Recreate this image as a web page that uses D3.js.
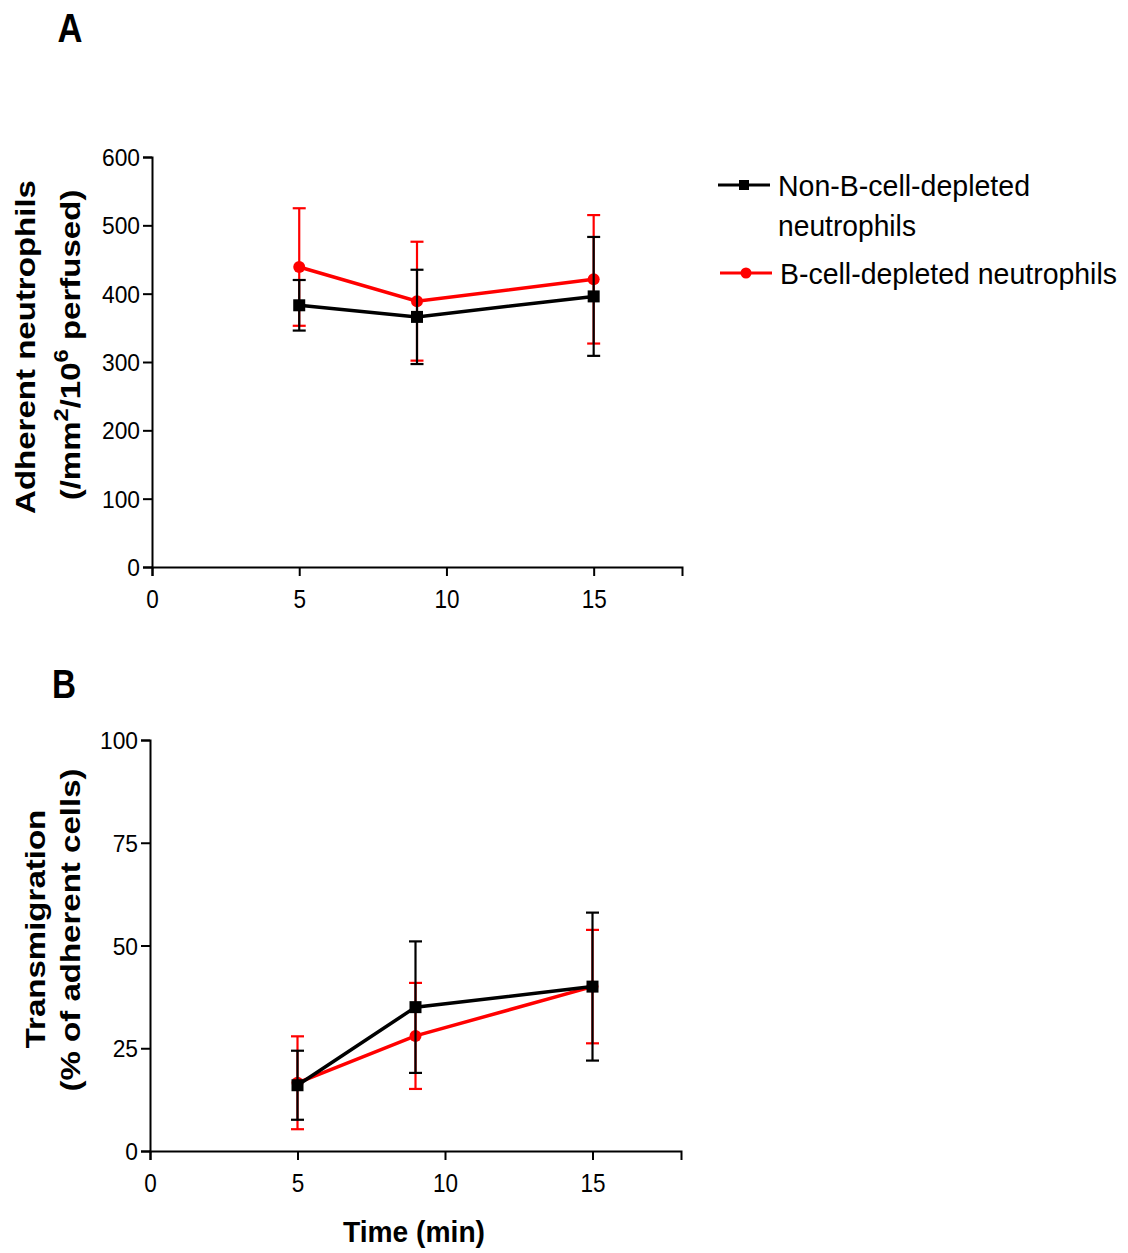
<!DOCTYPE html>
<html><head><meta charset="utf-8">
<script src="https://cdn.jsdelivr.net/npm/d3@7"></script>
<style>
body{margin:0;background:#fff;}
svg{display:block;}
.tick text{font-family:"Liberation Sans",Arial,sans-serif;fill:#000;}
</style></head>
<body>
<svg id="chart" width="1128" height="1253"></svg>
<script>
// ---- data ----
const times = [5, 9, 15];
const seriesNames = ["Non-B-cell-depleted", "neutrophils", "B-cell-depleted neutrophils"];
// Panel A: adherent neutrophils
const adhNonDepMean = [383, 366, 396];
const adhNonDepErr  = [37, 69, 87];
const adhDepMean    = [439, 389, 421];
const adhDepErr     = [86, 87, 94];
// Panel B: transmigration (%)
const trNonDepMean = [16, 35, 40];
const trNonDepErr  = [8.4, 16, 18];
const trDepMean    = [16.6, 28, 40];
const trDepErr     = [11.3, 12.9, 13.8];
// ticks
const xTicks = [0, 5, 10, 15];
const yTicksA = [0, 100, 200, 300, 400, 500, 600];
const yTicksB = [0, 25, 50, 75, 100];

const svg = d3.select("#chart");
const font = '"Liberation Sans",Arial,sans-serif';

function squeeze(sel, ratio) {
  sel.each(function() {
    const w = this.getComputedTextLength();
    d3.select(this).attr("textLength", w * ratio).attr("lengthAdjust", "spacingAndGlyphs");
  });
}

function panel(cfg) {
  const x = d3.scaleLinear().domain([0, 18]).range([cfg.left, cfg.right]);
  const y = d3.scaleLinear().domain([0, cfg.ymax]).range([cfg.bottom, cfg.top]);
  const g = svg.append("g");
  const ax = g.append("g").attr("transform", `translate(0,${cfg.bottom})`)
    .call(d3.axisBottom(x).tickValues(xTicks).tickSizeOuter(0).tickSize(9).tickPadding(14));
  const ay = g.append("g").attr("transform", `translate(${cfg.left},0)`)
    .call(d3.axisLeft(y).tickValues(cfg.yTicks).tickSizeOuter(0).tickSize(9).tickPadding(3));
  [ax, ay].forEach(a => {
    a.selectAll(".domain").attr("stroke", "#000").attr("stroke-width", 2);
    a.selectAll(".tick line").attr("stroke", "#000").attr("stroke-width", 2);
  });
  ax.selectAll(".tick text").attr("font-size", 25);
  ay.selectAll(".tick text").attr("font-size", 24).attr("dy", "0.36em");
  squeeze(ax.selectAll(".tick text"), 0.9);
  squeeze(ay.selectAll(".tick text"), 0.95);

  const series = [
    {mean: cfg.depMean, err: cfg.depErr, color: "#ff0000", shape: "circle"},
    {mean: cfg.nonMean, err: cfg.nonErr, color: "#000000", shape: "square"}
  ];
  const capW = 6.5;
  series.forEach(s => {
    const pts = times.map((t, i) => ({t, m: s.mean[i], e: s.err[i]}));
    const eg = g.append("g");
    pts.forEach(p => {
      eg.append("line").attr("x1", x(p.t)).attr("x2", x(p.t))
        .attr("y1", y(p.m + p.e)).attr("y2", y(p.m - p.e))
        .attr("stroke", s.color).attr("stroke-width", 2.2);
      [p.m + p.e, p.m - p.e].forEach(v => {
        eg.append("line").attr("x1", x(p.t) - capW).attr("x2", x(p.t) + capW)
          .attr("y1", y(v)).attr("y2", y(v))
          .attr("stroke", s.color).attr("stroke-width", 2.2);
      });
    });
    g.append("path").datum(pts)
      .attr("d", d3.line().x(d => x(d.t)).y(d => y(d.m)))
      .attr("fill", "none").attr("stroke", s.color).attr("stroke-width", 3.5);
    pts.forEach(p => {
      if (s.shape === "circle") {
        g.append("circle").attr("cx", x(p.t)).attr("cy", y(p.m)).attr("r", 6).attr("fill", s.color);
      } else {
        g.append("rect").attr("x", x(p.t) - 6).attr("y", y(p.m) - 6)
          .attr("width", 12).attr("height", 12).attr("fill", s.color);
      }
    });
  });
  return {x, y};
}

panel({left: 152, right: 682, top: 157, bottom: 567, ymax: 600, yTicks: yTicksA,
  nonMean: adhNonDepMean, nonErr: adhNonDepErr, depMean: adhDepMean, depErr: adhDepErr});
panel({left: 150, right: 681, top: 740, bottom: 1151, ymax: 100, yTicks: yTicksB,
  nonMean: trNonDepMean, nonErr: trNonDepErr, depMean: trDepMean, depErr: trDepErr});

// panel letters
svg.append("text").attr("x", 70).attr("y", 42).attr("text-anchor", "middle")
  .attr("font-family", font).attr("font-weight", "bold").attr("font-size", 40)
  .attr("textLength", 25).attr("lengthAdjust", "spacingAndGlyphs").text("A");
svg.append("text").attr("x", 64).attr("y", 698).attr("text-anchor", "middle")
  .attr("font-family", font).attr("font-weight", "bold").attr("font-size", 40)
  .attr("textLength", 24).attr("lengthAdjust", "spacingAndGlyphs").text("B");

// y titles (rotated, stretched along their length)
function yTitle(cx, cy) {
  return svg.append("text").attr("transform", `translate(${cx},${cy}) rotate(-90) scale(1.18,1)`)
    .attr("text-anchor", "middle").attr("font-family", font).attr("font-weight", "bold")
    .attr("font-size", 28);
}
yTitle(35, 347).text("Adherent neutrophils");
const tA2 = yTitle(80, 345);
tA2.append("tspan").text("(/mm");
tA2.append("tspan").attr("dy", -12).attr("font-size", 20).text("2");
tA2.append("tspan").attr("dy", 12).text("/10");
tA2.append("tspan").attr("dy", -12).attr("font-size", 20).text("6");
tA2.append("tspan").attr("dy", 12).text(" perfused)");
yTitle(45, 929).text("Transmigration");
yTitle(80, 930).text("(% of adherent cells)");

// x title
svg.append("text").attr("x", 414).attr("y", 1242).attr("text-anchor", "middle")
  .attr("font-family", font).attr("font-weight", "bold").attr("font-size", 30)
  .attr("textLength", 142).attr("lengthAdjust", "spacingAndGlyphs").text("Time (min)");

// legend
const leg = svg.append("g");
leg.append("line").attr("x1", 718).attr("x2", 770).attr("y1", 185).attr("y2", 185).attr("stroke", "#000").attr("stroke-width", 3);
leg.append("rect").attr("x", 739).attr("y", 180).attr("width", 10).attr("height", 10).attr("fill", "#000");
const lt1 = leg.append("text").attr("x", 778).attr("y", 196).attr("font-family", font).attr("font-size", 29);
lt1.append("tspan").attr("textLength", 252).attr("lengthAdjust", "spacingAndGlyphs").text(seriesNames[0]);
lt1.append("tspan").attr("x", 778).attr("dy", 40).attr("textLength", 138).attr("lengthAdjust", "spacingAndGlyphs").text(seriesNames[1]);
leg.append("line").attr("x1", 720).attr("x2", 772).attr("y1", 273).attr("y2", 273).attr("stroke", "#ff0000").attr("stroke-width", 3);
leg.append("circle").attr("cx", 746).attr("cy", 273).attr("r", 5.5).attr("fill", "#ff0000");
leg.append("text").attr("x", 780).attr("y", 284).attr("font-family", font).attr("font-size", 29)
  .attr("textLength", 337).attr("lengthAdjust", "spacingAndGlyphs").text(seriesNames[2]);
</script>
</body></html>
